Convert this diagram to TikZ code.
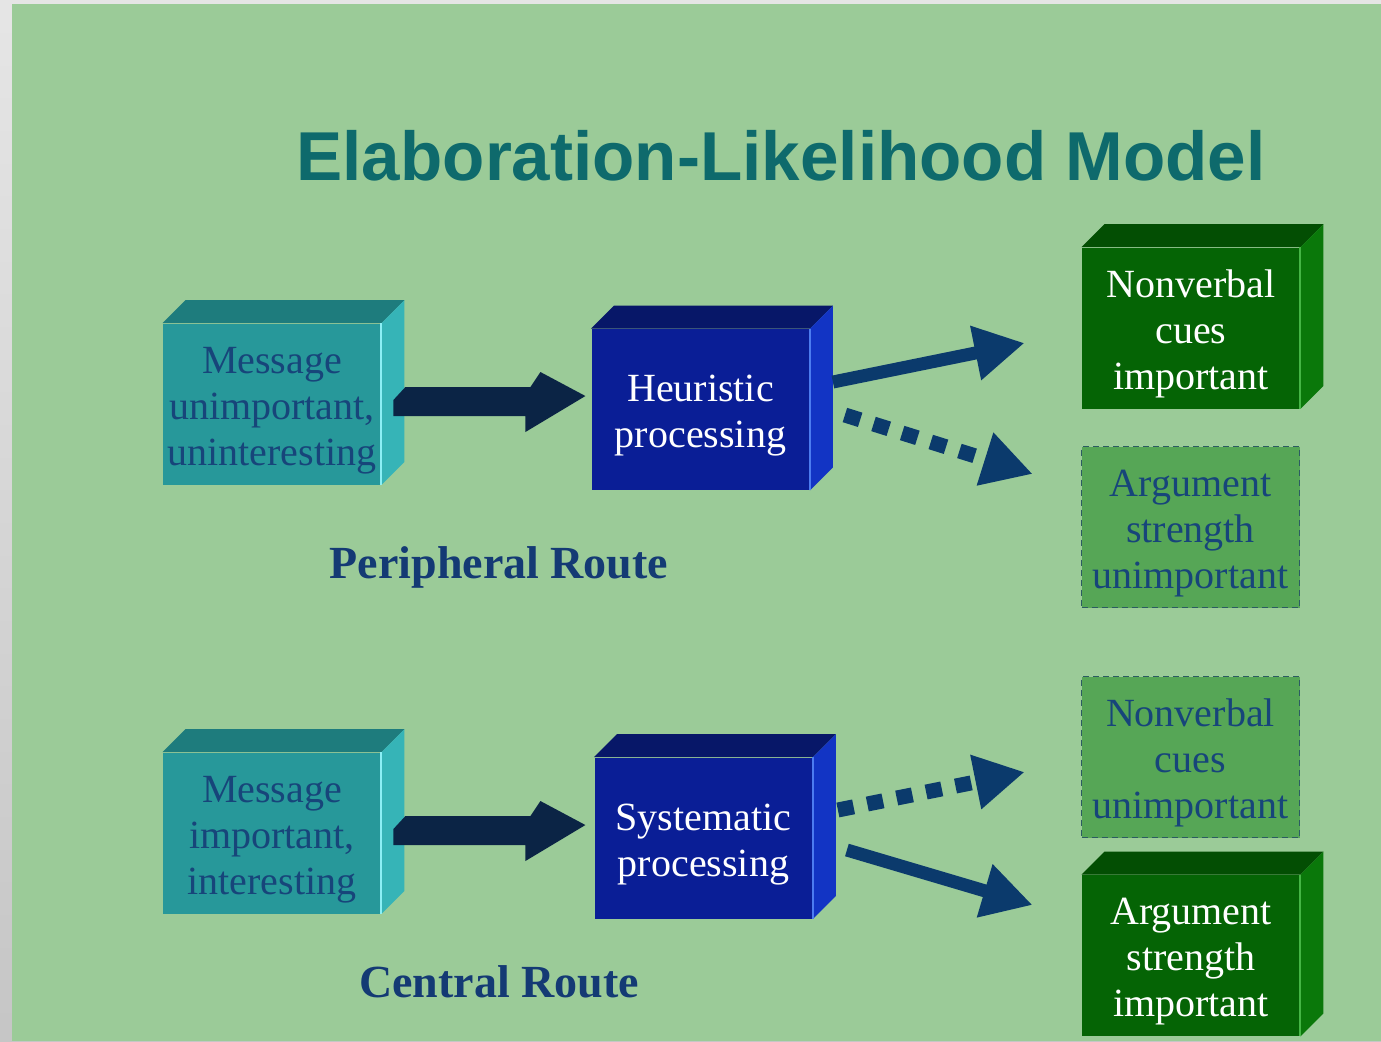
\documentclass[tikz,border=0pt]{standalone}
\usepackage{fontspec}
\setmainfont{Liberation Serif}
\newfontfamily\titlefont{Liberation Sans}
\usetikzlibrary{arrows.meta,calc}
\definecolor{bgc}{HTML}{9BCB98}
\definecolor{titlec}{HTML}{0E6A6C}
\definecolor{labelc}{HTML}{143A74}
\definecolor{boxtxt}{HTML}{17457A}
\definecolor{tealF}{HTML}{27989A}
\definecolor{tealT}{HTML}{1E7C7D}
\definecolor{tealS}{HTML}{36B4B7}
\definecolor{tealE}{HTML}{8CEFF5}
\definecolor{blueF}{HTML}{0A1E96}
\definecolor{blueT}{HTML}{071768}
\definecolor{blueS}{HTML}{1234C4}
\definecolor{blueE}{HTML}{4C7CF0}
\definecolor{greenF}{HTML}{056405}
\definecolor{greenT}{HTML}{034E03}
\definecolor{greenS}{HTML}{0A780A}
\definecolor{greenE}{HTML}{45B545}
\definecolor{dashF}{HTML}{56A656}
\definecolor{dashB}{HTML}{2C5C62}
\definecolor{arrc}{HTML}{0B3A6C}
\definecolor{blockc}{HTML}{0B2445}
\newcommand\topgap{\rule{0pt}{19.5pt}}
\newcommand\cubefaces[4]{%
  \fill[#2] (#1.north west) -- ++(23,-23) -- ([shift={(23,-23)}]#1.north east) -- (#1.north east) -- cycle;
  \fill[#3] (#1.north east) -- ++(23,-23) -- ([shift={(23,-23)}]#1.south east) -- (#1.south east) -- cycle;
  \draw[#4, line width=1pt] (#1.north east) -- (#1.south east);
}
\newcommand\blockarrow[1]{%
  \fill[blockc] ([shift={(12,-4)}]#1) -- ([shift={(24,-17)}]#1) -- ([shift={(149,-17)}]#1)
    -- ([shift={(159,-32)}]#1) -- ([shift={(204,-8)}]#1) -- ([shift={(144,28)}]#1)
    -- ([shift={(144,12)}]#1) -- ([shift={(12,12)}]#1) -- cycle;
}
\begin{document}
\begin{tikzpicture}[x=0.5pt,y=-0.5pt,
  front/.style={inner sep=0pt, minimum width=109pt, minimum height=80.5pt, align=center,
    font=\fontsize{20}{23}\selectfont},
  tealbox/.style={front, fill=tealF, text=boxtxt},
  bluebox/.style={front, fill=blueF, text=white},
  greenbox/.style={front, fill=greenF, text=white},
  dashbox/.style={front, fill=dashF, text=boxtxt, draw=dashB, line width=0.8pt, dash pattern=on 3pt off 2pt},
  routelabel/.style={font=\fontsize{23}{26}\selectfont\bfseries, text=labelc, anchor=base},
  solidarr/.style={draw=arrc, line width=6.5pt, -{Triangle[length=25pt,width=26pt]}},
  dasharr/.style={draw=arrc, line width=7.5pt, dash pattern=on 8pt off 7pt, -{Triangle[length=25pt,width=26pt]}}
]
\useasboundingbox (0,0) rectangle (1381,1041);
\shade[top color=gray!20, bottom color=gray!45] (0,0) rectangle (1381,1041);
\fill[bgc] (12,4) rectangle (1381,1041);

\node[font=\titlefont\bfseries\fontsize{34.6}{40}\selectfont, text=titlec, anchor=base] (title) at (781,180) {Elaboration-Likelihood Model};

% peripheral route
\node[tealbox] (m1) at (272,404) {\topgap Message\\unimportant,\\uninteresting};
\node[bluebox] (hp) at (700.5,409.5) {\topgap Heuristic\\processing};
\node[greenbox] (nci) at (1191,328) {\topgap Nonverbal\\cues\\important};
\node[dashbox] (asu) at (1190.5,527) {\topgap Argument\\strength\\unimportant};
\cubefaces{m1}{tealT}{tealS}{tealE}
\cubefaces{hp}{blueT}{blueS}{blueE}
\cubefaces{nci}{greenT}{greenS}{greenE}
\node[routelabel] (pr) at (499,578) {Peripheral Route};

% central route
\node[tealbox] (m2) at (272,833) {\topgap Message\\important,\\interesting};
\node[bluebox] (sp) at (703.5,838) {\topgap Systematic\\processing};
\node[dashbox] (ncu) at (1190.5,757) {\topgap Nonverbal\\cues\\unimportant};
\node[greenbox] (asi) at (1191,955.5) {\topgap Argument\\strength\\important};
\cubefaces{m2}{tealT}{tealS}{tealE}
\cubefaces{sp}{blueT}{blueS}{blueE}
\cubefaces{asi}{greenT}{greenS}{greenE}
\node[routelabel] (cr) at (499,997) {Central Route};

% connectors
\blockarrow{m1.east}
\blockarrow{m2.east}
\draw[solidarr] ([shift={(23,-27.5)}]hp.east) -- ([shift={(-57,15)}]nci.west);
\draw[dasharr] ([shift={(35,5.5)}]hp.east) -- ([shift={(-48,-53)}]asu.west);
\draw[dasharr] ([shift={(25,-28)}]sp.east) -- ([shift={(-56,15)}]ncu.west);
\draw[solidarr] ([shift={(34,12)}]sp.east) -- ([shift={(-49,-50.5)}]asi.west);
\end{tikzpicture}
\end{document}
